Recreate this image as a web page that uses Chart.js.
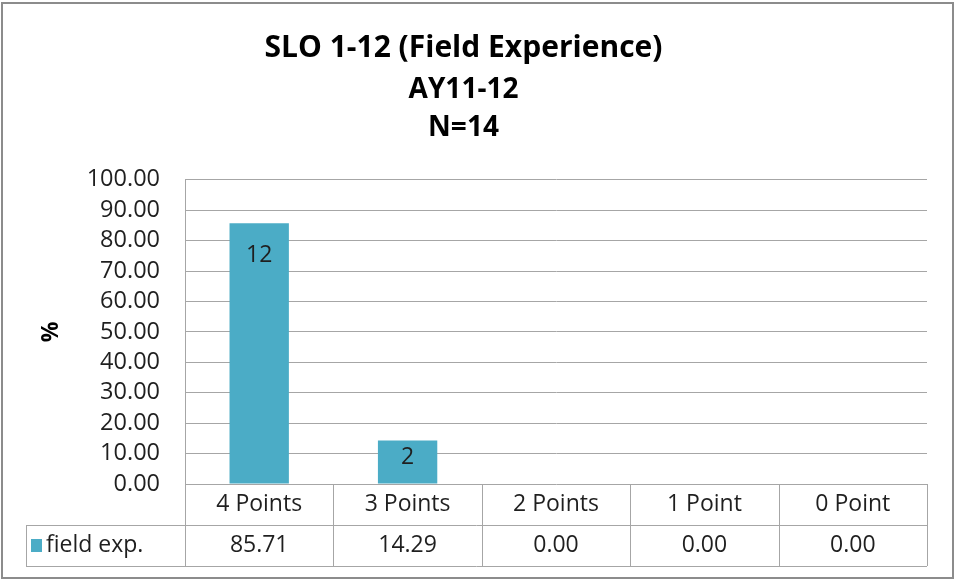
<!DOCTYPE html>
<html>
<head>
<meta charset="utf-8">
<script src="https://cdn.jsdelivr.net/npm/chart.js@4"></script>
<style>
  html, body { margin: 0; padding: 0; background: #fff; }
  #wrap { width: 955px; height: 581px; }
</style>
</head>
<body>
<div id="wrap"><canvas id="sloChart"></canvas></div>
<script>
// data
const categories = ['4 Points', '3 Points', '2 Points', '1 Point', '0 Point'];
const percents = [85.71, 14.29, 0.00, 0.00, 0.00];
const counts = [12, 2, 0, 0, 0];
const seriesName = 'field exp.';
const yTicks = [0, 10, 20, 30, 40, 50, 60, 70, 80, 90, 100];

const barColor = '#4BACC6';
const lineColor = '#a6a6a6';
const textColor = '#1f1f1f';
const font = "'Open Sans', 'Noto Sans', sans-serif";

// outer frame + white background
const framePlugin = {
  id: 'frame',
  beforeDraw(chart) {
    const ctx = chart.ctx;
    ctx.save();
    ctx.fillStyle = '#fff';
    ctx.fillRect(0, 0, chart.width, chart.height);
    ctx.strokeStyle = '#8c8c8c';
    ctx.lineWidth = 2;
    ctx.strokeRect(2, 3, chart.width - 4, chart.height - 6);
    ctx.restore();
  }
};

// count labels inside the top of the bars
const barLabels = {
  id: 'barLabels',
  afterDatasetsDraw(chart) {
    const ctx = chart.ctx;
    const meta = chart.getDatasetMeta(0);
    ctx.save();
    ctx.font = '23px ' + font;
    ctx.fillStyle = textColor;
    ctx.textAlign = 'center';
    ctx.textBaseline = 'middle';
    meta.data.forEach((bar, i) => {
      if (!counts[i]) return;
      const h = bar.base - bar.y;
      ctx.fillText(String(counts[i]), bar.x, bar.y + Math.min(32, h * 0.4));
    });
    ctx.restore();
  }
};

// Excel style data table under the plot
const dataTable = {
  id: 'dataTable',
  afterDraw(chart) {
    const ctx = chart.ctx;
    const x = chart.scales.x;
    const area = chart.chartArea;
    const rowH = 41;
    const top = area.bottom, mid = top + rowH, bot = mid + rowH;
    const tableLeft = 26;
    const n = categories.length;
    const step = (area.right - area.left) / n;

    ctx.save();
    ctx.strokeStyle = lineColor;
    ctx.lineWidth = 1;
    ctx.beginPath();
    ctx.moveTo(tableLeft, mid + 0.5); ctx.lineTo(area.right, mid + 0.5);
    ctx.moveTo(tableLeft, bot + 0.5); ctx.lineTo(area.right, bot + 0.5);
    ctx.moveTo(tableLeft + 0.5, mid); ctx.lineTo(tableLeft + 0.5, bot);
    for (let i = 0; i <= n; i++) {
      const lx = Math.round(area.left + i * step) + 0.5;
      ctx.moveTo(lx, top); ctx.lineTo(lx, bot);
    }
    ctx.stroke();

    ctx.font = '23px ' + font;
    ctx.fillStyle = textColor;
    ctx.textAlign = 'center';
    ctx.textBaseline = 'middle';
    categories.forEach((c, i) => {
      const cx = x.getPixelForValue(i);
      ctx.fillText(c, cx, top + rowH / 2);
      ctx.fillText(percents[i].toFixed(2), cx, mid + rowH / 2);
    });

    // legend key
    ctx.fillStyle = barColor;
    ctx.fillRect(31, mid + 14, 11, 13);
    ctx.fillStyle = textColor;
    ctx.textAlign = 'left';
    ctx.fillText(seriesName, 46, mid + rowH / 2);
    ctx.restore();
  }
};

new Chart(document.getElementById('sloChart'), {
  type: 'bar',
  data: {
    labels: categories,
    datasets: [{
      label: seriesName,
      data: percents,
      backgroundColor: barColor,
      categoryPercentage: 1,
      barPercentage: 0.4
    }]
  },
  options: {
    responsive: true,
    maintainAspectRatio: false,
    animation: false,
    layout: { padding: { left: 0, right: 28, top: 0, bottom: 97 } },
    plugins: {
      legend: { display: false },
      tooltip: { enabled: false },
      title: {
        display: true,
        text: 'SLO 1-12 (Field Experience)',
        color: '#000',
        font: { family: font, size: 30, weight: 'bold', lineHeight: 1.2 },
        padding: { top: 30, bottom: 5 }
      },
      subtitle: {
        display: true,
        text: ['AY11-12', 'N=14'],
        color: '#000',
        font: { family: font, size: 28, weight: 'bold', lineHeight: 1.357 },
        padding: { top: 0, bottom: 32.8 }
      }
    },
    scales: {
      x: {
        display: false
      },
      y: {
        min: 0,
        max: 100,
        afterFit(scale) { scale.width = 185; },
        afterBuildTicks(scale) { scale.ticks = yTicks.map(v => ({ value: v })); },
        grid: { color: lineColor, drawTicks: false },
        border: { color: lineColor },
        ticks: {
          padding: 25,
          autoSkip: false,
          color: textColor,
          font: { family: font, size: 23.5, lineHeight: 1 },
          callback: v => Number(v).toFixed(2)
        },
        title: {
          display: true,
          text: '%',
          color: '#000',
          font: { family: font, size: 23, weight: 'bold' },
          padding: { top: 38, bottom: 0 }
        }
      }
    }
  },
  plugins: [framePlugin, barLabels, dataTable]
});
</script>
</body>
</html>
